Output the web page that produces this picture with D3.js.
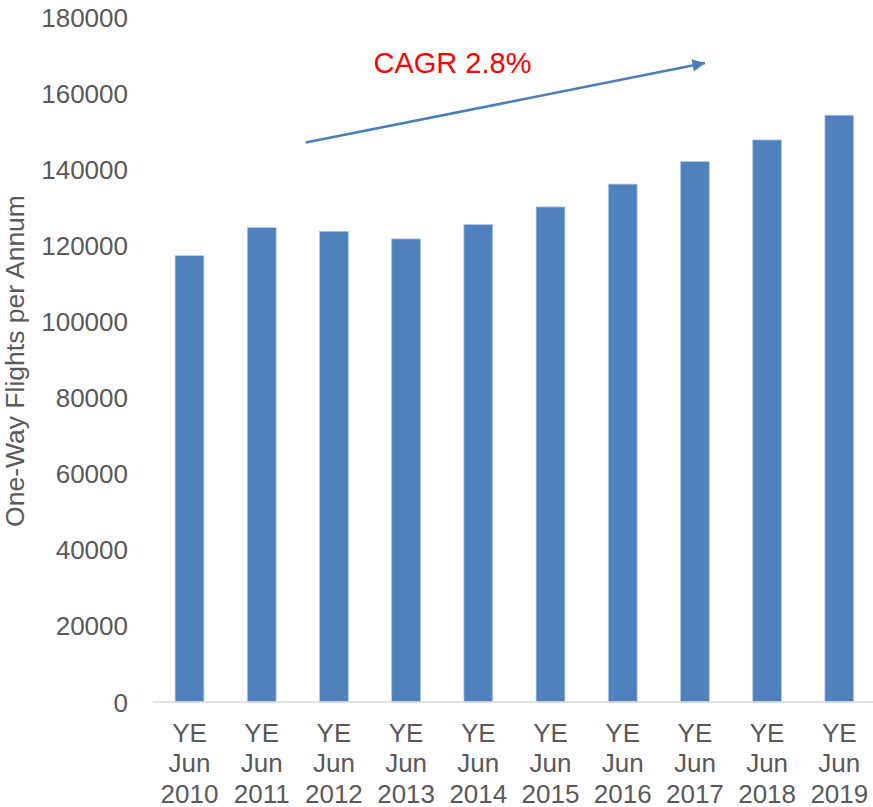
<!DOCTYPE html>
<html>
<head>
<meta charset="utf-8">
<script src="https://cdn.jsdelivr.net/npm/d3@7"></script>
<style>
  body { margin: 0; background: #fff; }
  svg { display: block; font-family: "Liberation Sans", Arial, sans-serif; }
</style>
</head>
<body>
<div id="chart"></div>
<script>
  // chart data
  const categories = ["2010", "2011", "2012", "2013", "2014", "2015", "2016", "2017", "2018", "2019"];
  const flights = [117300, 124700, 123700, 121700, 125500, 130100, 136100, 142000, 147700, 154200];
  const yTicks = [0, 20000, 40000, 60000, 80000, 100000, 120000, 140000, 160000, 180000];
  // trend arrow, in category index and value units
  const arrowFrom = [1.61, 147000];
  const arrowTo = [7.14, 167900];
  const arrowLabel = "CAGR 2.8%";

  const width = 873;
  const height = 807;

  const svg = d3
    .select("#chart")
    .append("svg")
    .attr("width", width)
    .attr("height", height);

  // scales
  const x = d3
    .scaleBand()
    .domain(categories)
    .range([153.4, 875.4])
    .paddingInner(0.6)
    .paddingOuter(0.3);

  const y = d3.scaleLinear().domain([0, 180000]).range([702, 17]);

  // index -> x position (centre of band)
  const xIdx = d3
    .scaleLinear()
    .domain([0, categories.length - 1])
    .range([x(categories[0]) + x.bandwidth() / 2, x(categories[categories.length - 1]) + x.bandwidth() / 2]);

  // y axis labels
  const yAxis = svg
    .append("g")
    .attr("transform", "translate(153,0)")
    .call(d3.axisLeft(y).tickValues(yTicks).tickSize(0).tickPadding(25).tickFormat(d3.format("d")));
  yAxis.select(".domain").remove();
  yAxis
    .selectAll("text")
    .style("font-size", "26px")
    .attr("fill", "#595959")
    .attr("dy", "0.35em");

  // bars
  svg
    .selectAll(".bar")
    .data(flights)
    .join("rect")
    .attr("class", "bar")
    .attr("x", (d, i) => x(categories[i]))
    .attr("width", x.bandwidth())
    .attr("y", (d) => y(d))
    .attr("height", (d) => y(0) - y(d))
    .attr("fill", "#4f81bd")
    .attr("stroke", "#b9cde5")
    .attr("stroke-width", 0.8);

  // x axis line
  svg
    .append("line")
    .attr("x1", 153)
    .attr("x2", width)
    .attr("y1", y(0))
    .attr("y2", y(0))
    .attr("stroke", "#d9d9d9")
    .attr("stroke-width", 1.5);

  // x axis labels (three lines each)
  const xLabels = svg
    .selectAll(".xlab")
    .data(categories)
    .join("text")
    .attr("class", "xlab")
    .attr("text-anchor", "middle")
    .style("font-size", "26px")
    .attr("fill", "#595959");
  xLabels.each(function (d) {
    const cx = x(d) + x.bandwidth() / 2;
    const lines = ["YE", "Jun", d];
    d3.select(this)
      .selectAll("tspan")
      .data(lines)
      .join("tspan")
      .attr("x", cx)
      .attr("y", (l, j) => 741.5 + j * 30.5)
      .text((l) => l);
  });

  // y axis title
  svg
    .append("text")
    .attr("transform", `translate(24, ${(195 + 527) / 2}) rotate(-90)`)
    .attr("text-anchor", "middle")
    .style("font-size", "26.5px")
    .attr("fill", "#595959")
    .text("One-Way Flights per Annum");

  // arrow
  svg
    .append("defs")
    .append("marker")
    .attr("id", "head")
    .attr("viewBox", "0 0 10 10")
    .attr("refX", 10)
    .attr("refY", 5)
    .attr("markerWidth", 6)
    .attr("markerHeight", 5)
    .attr("markerUnits", "strokeWidth")
    .attr("orient", "auto")
    .append("path")
    .attr("d", "M0,0 L10,5 L0,10 Z")
    .attr("fill", "#4a7ebb");

  svg
    .append("line")
    .attr("x1", xIdx(arrowFrom[0]))
    .attr("y1", y(arrowFrom[1]))
    .attr("x2", xIdx(arrowTo[0]))
    .attr("y2", y(arrowTo[1]))
    .attr("stroke", "#4a7ebb")
    .attr("stroke-width", 2.5)
    .attr("marker-end", "url(#head)");

  svg
    .append("text")
    .attr("x", 452.5)
    .attr("y", 72.5)
    .attr("text-anchor", "middle")
    .style("font-size", "29px")
    .attr("fill", "#ff0000")
    .text(arrowLabel);
</script>
</body>
</html>
